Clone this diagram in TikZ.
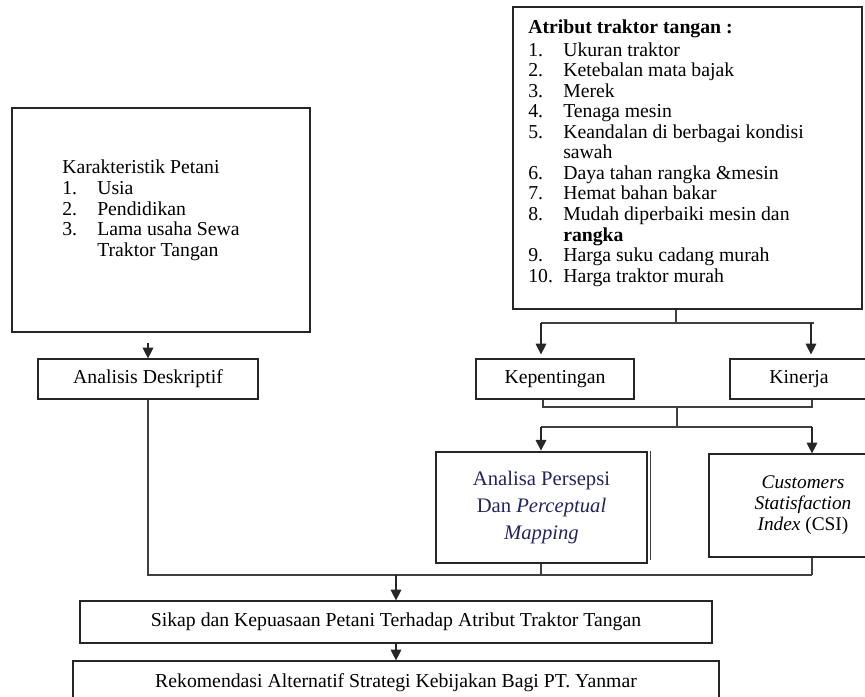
\documentclass[tikz,border=0pt]{standalone}
\usepackage{fontspec}
\setmainfont{Liberation Serif}
\usetikzlibrary{arrows.meta, positioning}

\definecolor{navy}{RGB}{35,35,95}
\newcommand{\li}[2]{\makebox[26.25pt][l]{#1}#2}

\begin{document}
\begin{tikzpicture}[x=0.75pt, y=-0.75pt,
    box/.style={rectangle, draw=black!85, line width=0.9pt, inner sep=0pt, align=center, font=\fontsize{14.8}{15.4}\selectfont},
    listtext/.style={inner sep=0pt, anchor=north west, align=left, font=\fontsize{14.8}{15.4}\selectfont},
    line/.style={draw=black!75, line width=0.8pt},
    arr/.style={-{Triangle[width=8pt,length=8pt]}, draw=black!85, line width=0.8pt}
  ]
    \useasboundingbox (0,0) rectangle (865,697);

    % upper boxes
    \node[box, minimum width=223.5pt, minimum height=168pt] (kar) at (161,220) {};
    \node[listtext] (kartext) at (62,160) {Karakteristik Petani\\ \li{1.}{Usia}\\ \li{2.}{Pendidikan}\\ \li{3.}{Lama usaha Sewa}\\ \hspace*{26.25pt}Traktor Tangan};
    \node[box, minimum width=261.75pt, minimum height=226.5pt] (atr) at (687.5,158) {};
    \node[listtext] (atrtext) at (528,20) {\textbf{Atribut traktor tangan :}\\[1.3pt] \li{1.}{Ukuran traktor}\\ \li{2.}{Ketebalan mata bajak}\\ \li{3.}{Merek}\\ \li{4.}{Tenaga mesin}\\ \li{5.}{Keandalan di berbagai kondisi}\\ \hspace*{26.25pt}sawah\\ \li{6.}{Daya tahan rangka \&mesin}\\ \li{7.}{Hemat bahan bakar}\\ \li{8.}{Mudah diperbaiki mesin dan}\\ \hspace*{26.25pt}\textbf{rangka}\\ \li{9.}{Harga suku cadang murah}\\ \li{10.}{Harga traktor murah}};

    % middle row
    \node[box, minimum width=165pt, minimum height=30pt] (ana) at (148,379) {Analisis Deskriptif};
    \node[box, minimum width=118.5pt, minimum height=30pt] (kep) at (555,379) {Kepentingan};
    \node[box, minimum width=103.5pt, minimum height=30pt] (kin) at (799,379) {Kinerja};
    \node[box, line width=2.1pt, minimum width=158.25pt, minimum height=83.25pt, text=navy, font=\fontsize{15.5}{20.5}\selectfont] (per) at (541.5,507.5) {Analisa Persepsi\\ Dan \textit{Perceptual}\\ \textit{Mapping}};
    \node[box, minimum width=141pt, minimum height=77.25pt, font=\fontsize{14.5}{15.8}\selectfont] (csi) at (803,505.5) {\textit{Customers}\\ \textit{Statisfaction}\\ \textit{Index} (CSI)};
    \draw[line, line width=0.5pt] ([xshift=1.4pt]per.north east) -- ([xshift=1.4pt,yshift=3pt]per.south east);

    % bottom boxes
    \node[box, minimum width=474pt, minimum height=31.5pt] (sik) at (396,622) {Sikap dan Kepuasaan Petani Terhadap Atribut Traktor Tangan};
    \node[box, minimum width=484.5pt, minimum height=33pt] (rek) at (396,683) {Rekomendasi Alternatif Strategi Kebijakan Bagi PT. Yanmar};

    % helper points
    \coordinate (t1) at (676,323);
    \coordinate (tL) at (541,323);
    \coordinate (tR) at (811,323);
    \coordinate (m1) at (543,407);
    \coordinate (m2) at (812,407);
    \coordinate (m3) at (677,407);
    \coordinate (m4) at (677,427);
    \coordinate (bL) at (541,427);
    \coordinate (bR) at (812,427);
    \coordinate (j0) at (148,575);
    \coordinate (j1) at (541,575);
    \coordinate (j2) at (812,575);
    \coordinate (j3) at (396,575);

    % connectors
    \draw[arr] ([yshift=-7.5pt]kar.south -| ana.north) -- (ana.north);
    \draw[line] (atr.south -| t1) -- (t1);
    \draw[line] (tL) -- ([xshift=2pt]tR);
    \draw[arr, shorten >=3pt] (tL) -- (tL |- kep.north);
    \draw[arr, shorten >=3pt] (tR) -- (tR |- kin.north);
    \draw[line] (kep.south -| m1) -- (m1) -- (m2) -- (kin.south -| m2);
    \draw[line] (m3) -- (m4);
    \draw[line] (bL) -- (bR);
    \draw[arr] (bL) -- (bL |- per.north);
    \draw[arr] (bR) -- (bR |- csi.north);
    \draw[line] (ana.south) -- (j0) -- (j2);
    \draw[line] (per.south -| j1) -- (j1);
    \draw[line] (csi.south -| j2) -- (j2);
    \draw[arr] (j3) -- (sik.north);
    \draw[arr] (sik.south) -- (rek.north);
  \end{tikzpicture}
\end{document}
